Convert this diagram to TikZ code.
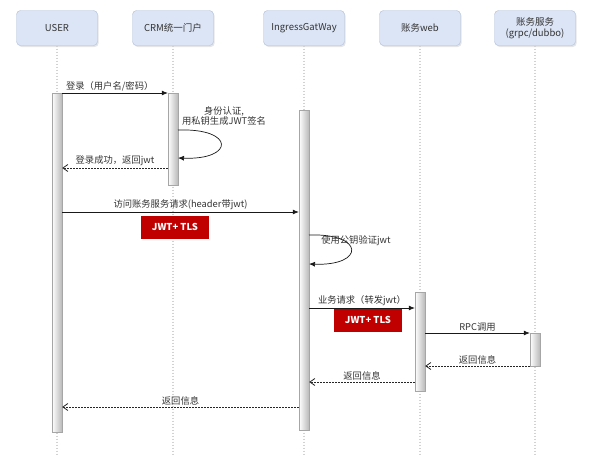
\documentclass[tikz,border=0pt]{standalone}
\usepackage{fontspec}
\setmainfont{Noto Sans CJK SC}
\usetikzlibrary{shadows,arrows.meta,calc}
\definecolor{hdrfill}{HTML}{DCE5F5}
\definecolor{hdrdraw}{HTML}{B0BFD8}
\definecolor{txt}{HTML}{333333}
\definecolor{jwtred}{HTML}{C00000}
\tikzset{
  hdr/.style={draw=hdrdraw, fill=hdrfill, rounded corners=4pt, minimum width=81pt, minimum height=35pt,
    inner sep=1pt, align=center, text=txt, font=\fontsize{9.5}{11}\selectfont,
    drop shadow={shadow xshift=1.2pt, shadow yshift=-1.5pt, opacity=0.2}},
  lifeline/.style={draw=gray!35, line width=1.2pt, dash pattern=on 1.2pt off 1.8pt},
  actbar/.style={draw=gray!70, left color=white, right color=gray!55, minimum width=10pt, inner sep=0pt,
    drop shadow={shadow xshift=1pt, shadow yshift=-1pt, opacity=0.2}},
  msg/.style={draw=black!90, line width=0.7pt, -{Latex[length=6pt,width=5pt]}},
  ret/.style={draw=black!85, line width=0.8pt, dash pattern=on 1.5pt off 1.5pt, -{Straight Barb[length=5pt,width=7pt]}},
  lbl/.style={text=txt, font=\fontsize{9.3}{10.5}\selectfont, inner sep=1.5pt},
  jwt/.style={fill=jwtred, text=white, font=\fontsize{9.5}{10}\selectfont\bfseries, minimum width=68pt, minimum height=23pt, inner sep=0pt}
}
\begin{document}
\begin{tikzpicture}[x=1pt,y=-1pt]
\fill[white] (0,0) rectangle (595,459);
\useasboundingbox (0,0) rectangle (595,459);
% headers
\node[hdr] (user) at (57,28) {USER};
\node[hdr] (crm) at (173,28) {CRM统一门户};
\node[hdr] (ing) at (304,28) {IngressGatWay};
\node[hdr] (web) at (420,28) {账务web};
\node[hdr] (svc) at (535,28) {账务服务\\(grpc/dubbo)};
% lifeline ends
\coordinate (lend) at (0,455);
\foreach \n in {user,crm,ing,web,svc}{
  \draw[lifeline] (\n.south) -- (\n.south |- lend);
}
% activation bars
\node[actbar, minimum height=339pt] (userbar) at (57,262.5) {};
\node[actbar, minimum height=92pt] (crmbar) at (173,139) {};
\node[actbar, minimum height=320pt] (ingbar) at (304,270) {};
\node[actbar, minimum height=99pt] (webbar) at (420,341.5) {};
\node[actbar, minimum height=33pt] (svcbar) at (535,349.5) {};
% message rows
\coordinate (y1) at (0,93);
\coordinate (y2) at (0,168);
\coordinate (y3) at (0,212);
\coordinate (y4) at (0,308);
\coordinate (y5) at (0,333);
\coordinate (y6) at (0,366);
\coordinate (y7) at (0,382);
\coordinate (y8) at (0,407);
% self loop points
\coordinate (s1a) at (178,130);
\coordinate (s1b) at (178,158);
\coordinate (s2a) at (309,235);
\coordinate (s2b) at (309,264);
% messages
\draw[msg] (userbar.east |- y1) -- node[lbl, above, pos=0.45] {登录（用户名/密码）} (crmbar.west |- y1);
\draw[msg] (s1a) .. controls (235,128) and (235,160) .. (s1b);
\node[lbl, align=center] (n1) at (224,116) {身份认证,\\用私钥生成JWT签名};
\draw[ret] (crmbar.west |- y2) -- node[lbl, above, pos=0.5] {登录成功，返回jwt} (userbar.east |- y2);
\draw[msg] (userbar.east |- y3) -- node[lbl, above] {访问账务服务请求(header带jwt)} (ingbar.west |- y3);
\node[jwt] (j1) at (175,227) {JWT+ TLS};
\draw[msg] (s2a) .. controls (365,233) and (365,266) .. (s2b);
\node[lbl] (n2) at (356,241) {使用公钥验证jwt};
\draw[msg] (ingbar.east |- y4) -- node[lbl, above] {业务请求（转发jwt）} (webbar.west |- y4);
\node[jwt] (j2) at (368,320) {JWT+ TLS};
\draw[msg] (webbar.east |- y5) -- node[lbl, above] {RPC调用} (svcbar.west |- y5);
\draw[ret] (svcbar.west |- y6) -- node[lbl, above] {返回信息} (webbar.east |- y6);
\draw[ret] (webbar.west |- y7) -- node[lbl, above] {返回信息} (ingbar.east |- y7);
\draw[ret] (ingbar.west |- y8) -- node[lbl, above] {返回信息} (userbar.east |- y8);
\end{tikzpicture}
\end{document}
